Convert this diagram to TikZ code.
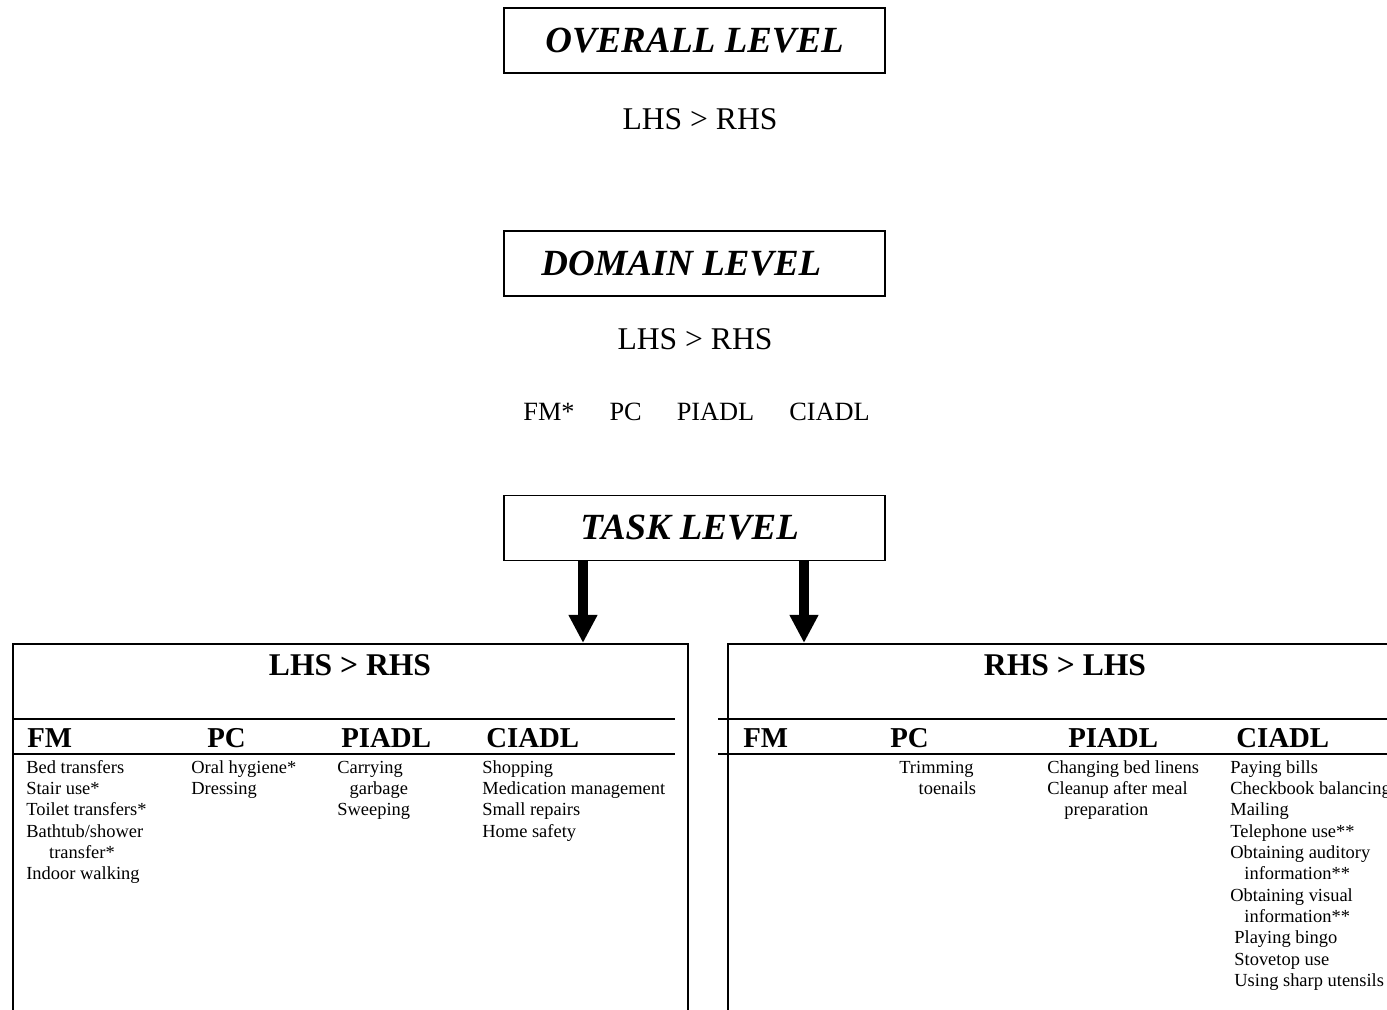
\documentclass[tikz,border=0pt]{standalone}
\usepackage{fontspec}
\setmainfont{Liberation Serif}
\usetikzlibrary{arrows.meta}
\tikzstyle{levelbox} = [rectangle, 
minimum width=7.62cm, 
minimum height=1.3cm, 
draw=black, line width=1.1pt,
font=\fontsize{21}{25}\selectfont\bfseries\itshape]
\tikzstyle{tablebox} = [rectangle, anchor=north west,
minimum height=8cm, 
draw=black, line width=1.1pt]
\tikzstyle{plain} = [inner sep=0pt, font=\fontsize{18}{21}\selectfont]
\tikzstyle{boxhead} = [inner sep=0pt, anchor=base, font=\fontsize{18}{21}\selectfont\bfseries]
\tikzstyle{colhead} = [inner sep=0pt, anchor=base west, font=\fontsize{16.4}{19}\selectfont\bfseries]
\tikzstyle{items} = [inner sep=0pt, anchor=north west, align=left, font=\fontsize{10.5}{12.13}\selectfont]
\tikzstyle{rule} = [line width=1.3pt]
\tikzstyle{arrow} = [line width=5.7pt, -{Triangle[width=15.4pt, length=16pt]}]

\begin{document}
\begin{tikzpicture}[x=0.02cm, y=-0.02cm]
  \useasboundingbox (0,0) rectangle (1387,1010);
  \clip (0,0) rectangle (1387,1010);

  % levels
  \node (overall) [levelbox] at (694.5,40.5) {OVERALL LEVEL};
  \node (overallres) [plain, anchor=base] at (700,130) {LHS > RHS};
  \node (domain) [levelbox] at (694.5,263.5) {DOMAIN LEVEL\hspace*{15pt}};
  \node (domainres) [plain, anchor=base] at (695,350) {LHS > RHS};
  \node (domainlist) [plain, anchor=base west, font=\fontsize{15}{18}\selectfont] at (523,420)
    {FM*\hspace{19.9pt}PC\hspace{19.9pt}PIADL\hspace{19.9pt}CIADL};
  \node (task) [levelbox] at (694.5,528) {TASK LEVEL\hspace*{5.5pt}};

  % task tables
  \node (lhsbox) [tablebox, minimum width=13.5cm] at (12,643) {};
  \node (rhsbox) [tablebox, minimum width=14cm] at (727,643) {};
  \coordinate (la) at (583,643);
  \coordinate (ra) at (804,643);
  \draw [arrow] (task.south -| la) -- (la);
  \draw [arrow] (task.south -| ra) -- (ra);

  \draw [rule] (12,719) -- (675,719);
  \draw [rule] (12,754) -- (675,754);
  \draw [rule] (718,719) -- (1400,719);
  \draw [rule] (718,754) -- (1400,754);

  \node (lhshead) [boxhead] at (350,675) {LHS > RHS};
  \node (rhshead) [boxhead] at (1065,675) {RHS > LHS};

  \node (lfm) [colhead] at (27,747) {FM};
  \node (lpc) [colhead] at (207,747) {PC};
  \node (lpiadl) [colhead] at (341,747) {PIADL};
  \node (lciadl) [colhead] at (486,747) {CIADL};
  \node (rfm) [colhead] at (743,747) {FM};
  \node (rpc) [colhead] at (890,747) {PC};
  \node (rpiadl) [colhead] at (1068,747) {PIADL};
  \node (rciadl) [colhead] at (1236,747) {CIADL};

  \node (lfmitems) [items] at (26,758) {\strut Bed transfers\\ Stair use*\\ Toilet transfers*\\ Bathtub/shower\\ \hspace*{13pt}transfer*\\ Indoor walking};
  \node (lpcitems) [items] at (191,758) {\strut Oral hygiene*\\ Dressing};
  \node (lpiadlitems) [items] at (337,758) {\strut Carrying\\ \hspace*{7pt}garbage\\ Sweeping};
  \node (lciadlitems) [items] at (482,758) {\strut Shopping\\ Medication management\\ Small repairs\\ Home safety};

  \node (rpcitems) [items] at (899,758) {\strut Trimming\\ \hspace*{11pt}toenails};
  \node (rpiadlitems) [items] at (1047,758) {\strut Changing bed linens\\ Cleanup after meal\\ \hspace*{9.7pt}preparation};
  \node (rciadlitems) [items] at (1230,758) {\strut Paying bills\\ Checkbook balancing\\ Mailing\\ Telephone use**\\ Obtaining auditory\\ \hspace*{8pt}information**\\ Obtaining visual\\ \hspace*{8pt}information**\\ \hspace*{2.3pt}Playing bingo\\ \hspace*{2.3pt}Stovetop use\\ \hspace*{2.3pt}Using sharp utensils};

\end{tikzpicture}
\end{document}
